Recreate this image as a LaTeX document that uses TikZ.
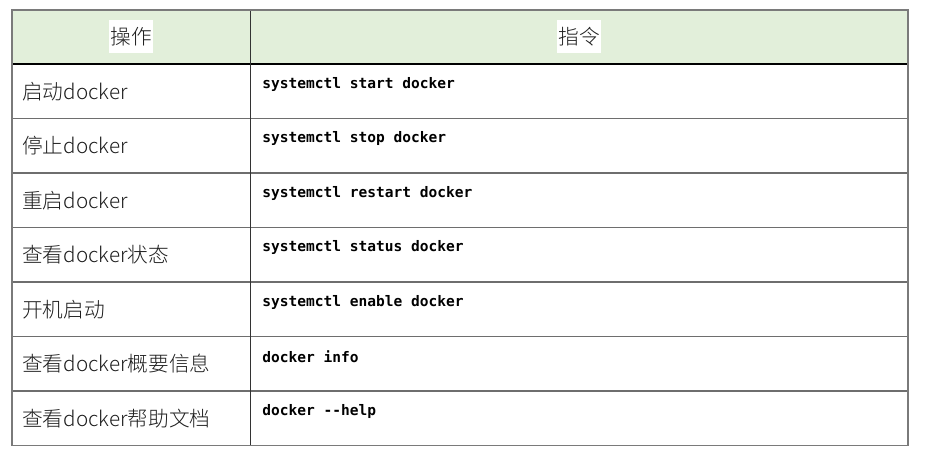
\documentclass[tikz,border=0pt]{standalone}
\usepackage{fontspec}
\newfontfamily\cjk{Noto Sans CJK SC Light}
\newfontfamily\codefont{DejaVu Sans Mono}
\definecolor{hdrgreen}{HTML}{E2EFDA}
\definecolor{gridgray}{HTML}{6E6E6E}
\definecolor{outergray}{HTML}{7A7A7A}
\definecolor{txt}{HTML}{1E1E1E}
\begin{document}
\begin{tikzpicture}[x=0.75pt,y=-0.75pt,
  optext/.style={anchor=west,inner sep=0pt,text=txt,font=\cjk\fontsize{15.5pt}{18pt}\selectfont},
  cmdtext/.style={anchor=west,inner sep=0pt,text=black,font=\codefont\bfseries\fontsize{10.9pt}{13pt}\selectfont},
  hdrtext/.style={fill=white,inner xsep=1pt,inner ysep=5pt,text=txt,font=\cjk\fontsize{15.5pt}{18pt}\selectfont},
  gridline/.style={draw=gridgray,line width=0.9pt},
  outerline/.style={draw=outergray,line width=1.2pt}]
\useasboundingbox (0,0) rectangle (930,464);
% header background
\fill[hdrgreen] (11.7,10) rectangle (907.7,64);
% horizontal lines
\foreach \yy in {118.3,173,227.5,282,336.5,391}
  \draw[gridline] (11.7,\yy) -- (907.7,\yy);
\draw[draw=black,line width=1pt] (11.7,64) -- (907.7,64);
% column divider
\draw[draw=black!80,line width=1pt] (250.7,10) -- (250.7,445.5);
% outer border
\draw[outerline] (11.7,10) rectangle (907.7,445.5);
% header texts
\node[hdrtext] (h1) at (131,36.5) {操作};
\node[hdrtext] (h2) at (579,36.5) {指令};
% left column
\node[optext] (o1) at (22,91.2) {启动docker};
\node[optext] (o2) at (22,145.7) {停止docker};
\node[optext] (o3) at (22,200.2) {重启docker};
\node[optext] (o4) at (22,254.7) {查看docker状态};
\node[optext] (o5) at (22,309.2) {开机启动};
\node[optext] (o6) at (22,363.7) {查看docker概要信息};
\node[optext] (o7) at (22,418.2) {查看docker帮助文档};
% right column
\node[cmdtext] (c1) at (262,84) {systemctl start docker};
\node[cmdtext] (c2) at (262,138.5) {systemctl stop docker};
\node[cmdtext] (c3) at (262,193) {systemctl restart docker};
\node[cmdtext] (c4) at (262,247.5) {systemctl status docker};
\node[cmdtext] (c5) at (262,302) {systemctl enable docker};
\node[cmdtext] (c6) at (262,356.5) {docker info};
\node[cmdtext] (c7) at (262,411) {docker --help};
\end{tikzpicture}
\end{document}
